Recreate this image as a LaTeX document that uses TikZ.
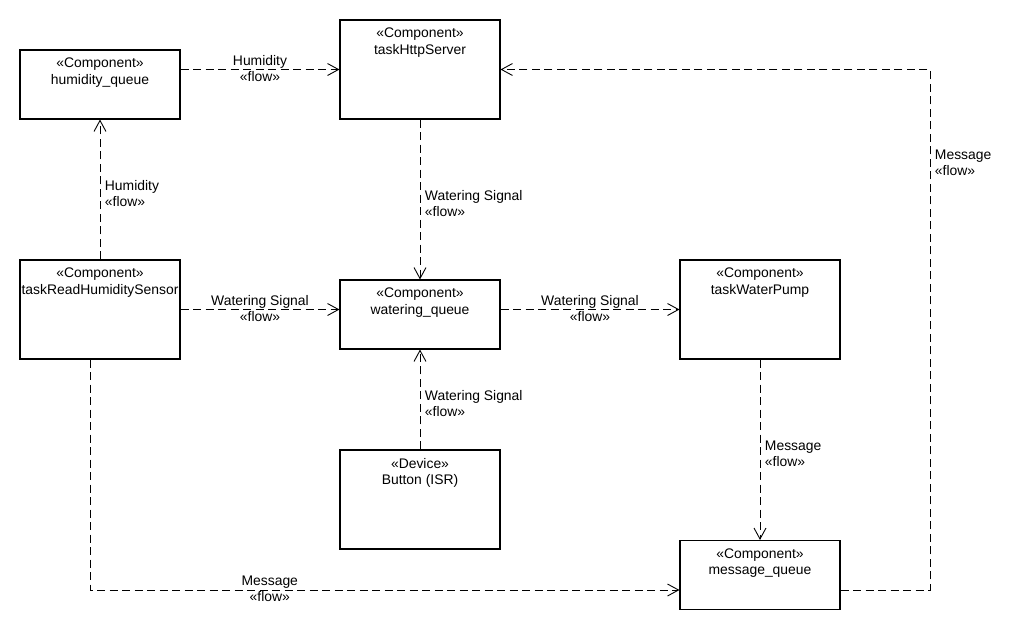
\documentclass[tikz,border=0pt]{standalone}
\usepackage{fontspec}
\setmainfont{Liberation Sans}
\usetikzlibrary{arrows.meta}
\begin{document}
\begin{tikzpicture}[x=1pt,y=-1pt,
  txt/.style={font=\fontsize{13.9}{16.5}\selectfont, align=center, inner sep=0pt},
  compbox/.style={draw, line width=1.1pt, minimum width=160pt, inner sep=0pt, fill=white},
  tallbox/.style={compbox, minimum height=99pt},
  flatbox/.style={compbox, minimum height=69pt},
  boxhead/.style={txt, anchor=north, yshift=-8.3pt},
  flowline/.style={draw, line width=0.9pt, dash pattern=on 8pt off 4.5pt,
    -{Straight Barb[length=11pt,width=12pt,line width=0.9pt]}},
  hlbl/.style={txt, yshift=1pt},
  vlbl/.style={txt, align=left, anchor=west, xshift=4.5pt, yshift=-4pt}
]
\useasboundingbox[fill=white] (0,0) rectangle (1030,640);

% components
\node[flatbox, label={[boxhead]north:{«Component»\\humidity\_queue}}] (hq) at (100,84.5) {};
\node[tallbox, label={[boxhead]north:{«Component»\\taskHttpServer}}] (http) at (420,69.5) {};
\node[tallbox, label={[boxhead]north:{«Component»\\taskReadHumiditySensor}}] (sensor) at (100,309.5) {};
\node[flatbox, label={[boxhead]north:{«Component»\\watering\_queue}}] (wq) at (420,314.5) {};
\node[tallbox, label={[boxhead]north:{«Component»\\taskWaterPump}}] (pump) at (760,309.5) {};
\node[tallbox, label={[boxhead]north:{«Device»\\Button (ISR)}}] (btn) at (420,499.5) {};
\node[flatbox, label={[boxhead]north:{«Component»\\message\_queue}}] (mq) at (760,575) {};

% corner of the return path from message_queue
\coordinate (rc) at (930,69.5);

% flows
\draw[flowline] (hq.east |- http) -- node[hlbl] {Humidity\\«flow»} (http.west);
\draw[flowline] (sensor.north) -- node[vlbl] {Humidity\\«flow»} (hq.south);
\draw[flowline] (sensor.east) -- node[hlbl] {Watering Signal\\«flow»} (sensor.east -| wq.west);
\draw[flowline] (http.south) -- node[vlbl] {Watering Signal\\«flow»} (wq.north);
\draw[flowline] (wq.east |- pump) -- node[hlbl] {Watering Signal\\«flow»} (pump.west);
\draw[flowline] (btn.north) -- node[vlbl] {Watering Signal\\«flow»} (wq.south);
\draw[flowline] (pump.south) -- node[vlbl] {Message\\«flow»} (mq.north);
\draw[flowline] ([xshift=-10pt]sensor.south) |- node[hlbl, pos=0.6525] {Message\\«flow»} ([yshift=-15pt]mq.west);
\draw[flowline] ([yshift=-15pt]mq.east) -| node[vlbl, pos=0.914] {Message\\«flow»} (rc) -- (http.east);
\end{tikzpicture}
\end{document}
